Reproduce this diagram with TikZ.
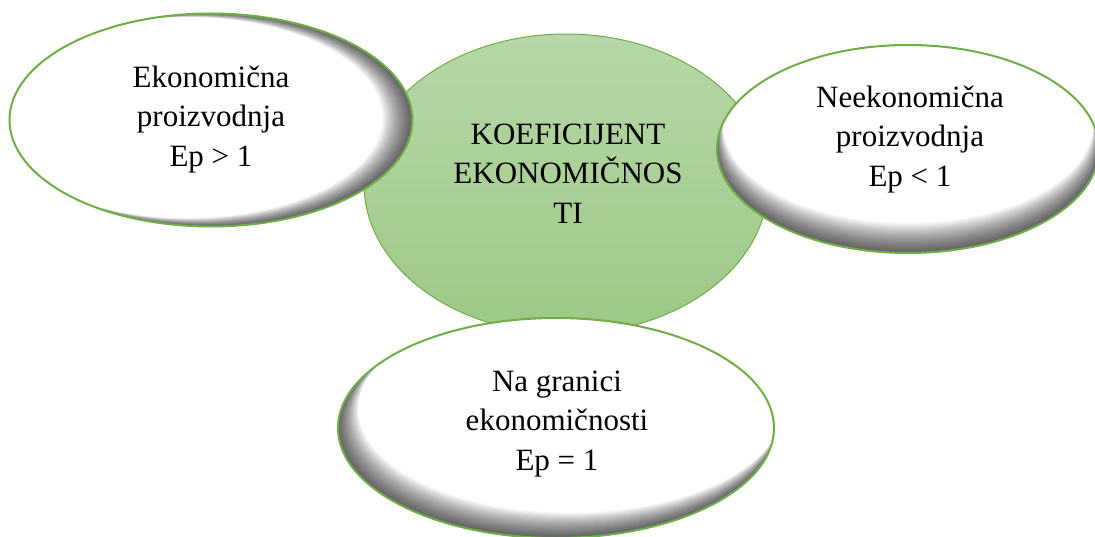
\documentclass[tikz,border=0pt]{standalone}
\usepackage{fontspec}
\setmainfont{Liberation Serif}
\usetikzlibrary{shapes.geometric,calc}
\definecolor{egreen}{RGB}{112,173,71}
\definecolor{gtop}{RGB}{183,215,168}
\definecolor{gbot}{RGB}{157,200,134}
\tikzset{
 lbl/.style={align=center, font=\fontsize{31}{39.5}\selectfont, inner sep=0pt},
 whiteell/.style n args={2}{ellipse, draw=egreen, line width=2pt, fill=white, inner sep=0pt,
   path picture={
     \foreach \k in {1,...,24}{
       \fill[black, opacity=0.036, even odd rule] let \p1=(path picture bounding box.north east), \p2=(path picture bounding box.south west) in
         ($(\p2)+(-40,40)$) rectangle ($(\p1)+(40,-40)$)
         ($(path picture bounding box.center)+(#1*\k*1.0,#2*\k*1.0)$) ellipse [x radius={(\x1-\x2)/2-\k*0.25pt}, y radius={(\y1-\y2)/2-\k*0.25pt}];
     }
   }},
 centerell/.style={ellipse, draw=egreen, line width=1pt, top color=gtop, bottom color=gbot, inner sep=0pt}
}
\begin{document}
\begin{tikzpicture}[x=1pt,y=-1pt]
\useasboundingbox (0,0) rectangle (1095,537);
\node[centerell, minimum width=404pt, minimum height=300pt] (core) at (566,184) {};
\node[whiteell={-1}{-0.1}, minimum width=403pt, minimum height=213pt] (eko) at (211,120) {};
\node[whiteell={0}{-1}, minimum width=382pt, minimum height=208pt] (neeko) at (908,149) {};
\node[whiteell={0.6}{-0.8}, minimum width=436pt, minimum height=220pt] (gran) at (556,428) {};
\node[lbl] (coret) at (568,173.5) {KOEFICIJENT\\EKONOMIČNOS\\TI};
\node[lbl] (ekot) at (211,119.3) {Ekonomična\\proizvodnja\\Ep > 1};
\node[lbl] (neekot) at (910,139.3) {Neekonomična\\proizvodnja\\Ep < 1};
\node[lbl] (grant) at (557,424) {Na granici\\ekonomičnosti\\Ep = 1};
\end{tikzpicture}
\end{document}
